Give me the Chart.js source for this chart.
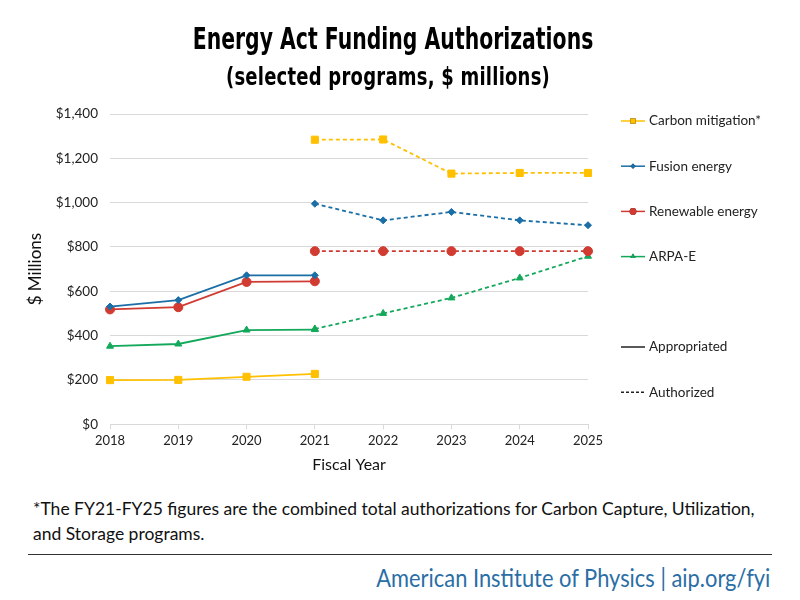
<!DOCTYPE html>
<html>
<head>
<meta charset="utf-8">
<script src="https://cdn.jsdelivr.net/npm/chart.js@4.4.1/dist/chart.umd.min.js"></script>
<style>
  body { margin: 0; background: #fff; }
  #wrap { position: relative; width: 800px; height: 600px; overflow: hidden; font-family: Lato, "Open Sans", sans-serif; }
  #chart { position: absolute; left: 0; top: 0; }
  .head { position: absolute; left: 0; width: 786px; text-align: center; color: #000; white-space: nowrap;
          font-family: "DejaVu Sans", sans-serif; font-weight: bold; transform-origin: 393px 0; }
  #title { top: 21px; font-size: 30px; transform: scaleX(0.68); }
  #subtitle { top: 63px; left: -5px; font-size: 24px; transform: scaleX(0.75); letter-spacing: 0.3px; }
  #note { position: absolute; left: 33px; top: 496px; width: 760px; font-size: 17.5px; line-height: 25px; color: #111; white-space: nowrap; }
  #rule { position: absolute; left: 28px; top: 554px; width: 744px; height: 1px; background: #333; }
  #footer { position: absolute; right: 30px; top: 562px; font-size: 25px; color: #2a6ea6; white-space: nowrap;
            transform: scaleX(0.875); transform-origin: right top; }
</style>
</head>
<body>
<div id="wrap">
  <canvas id="chart" width="800" height="480"></canvas>
  <div class="head" id="title">Energy Act Funding Authorizations</div>
  <div class="head" id="subtitle">(selected programs, $ millions)</div>
  <div id="note">*The FY21-FY25 figures are the combined total authorizations for Carbon Capture, Utilization,<br>and Storage programs.</div>
  <div id="rule"></div>
  <div id="footer">American Institute of Physics | aip.org/fyi</div>
</div>
<script>
const years = ["2018", "2019", "2020", "2021", "2022", "2023", "2024", "2025"];
const yTicks = [0, 200, 400, 600, 800, 1000, 1200, 1400];

const carbonAppropriated = [199, 200, 214, 227, null, null, null, null];
const carbonAuthorized = [null, null, null, 1284, 1285, 1131, 1134, 1134];
const fusionAppropriated = [531, 560, 672, 672, null, null, null, null];
const fusionAuthorized = [null, null, null, 995, 920, 958, 920, 898];
const renewableAppropriated = [518, 528, 642, 645, null, null, null, null];
const renewableAuthorized = [null, null, null, 781, 781, 781, 781, 781];
const arpaAppropriated = [352, 362, 425, 427, null, null, null, null];
const arpaAuthorized = [null, null, null, 430, 500, 570, 660, 758];

const programs = [
  { name: "Carbon mitigation*", color: "#ffc000", style: "rect", radius: 5, app: carbonAppropriated, auth: carbonAuthorized },
  { name: "Fusion energy", color: "#1b6ea6", style: "rectRot", radius: 3.5, app: fusionAppropriated, auth: fusionAuthorized },
  { name: "Renewable energy", color: "#d13b31", style: "circle", radius: 4.5, app: renewableAppropriated, auth: renewableAuthorized },
  { name: "ARPA-E", color: "#14a85b", style: "triangle", radius: 4, app: arpaAppropriated, auth: arpaAuthorized },
];

const datasets = [];
programs.forEach((p) => {
  [["app", []], ["auth", [4, 3]]].forEach(([key, dash]) => {
    datasets.push({
      label: p.name,
      data: p[key],
      borderColor: p.color,
      backgroundColor: p.color,
      borderWidth: 1.8,
      borderDash: dash,
      pointStyle: p.style,
      pointRadius: p.radius,
      pointBorderWidth: 1,
      spanGaps: false,
    });
  });
});

// legend on the right, with an empty slot between the programs and the line styles
const legendPlugin = {
  id: "sideLegend",
  afterDraw(chart) {
    const ctx = chart.ctx;
    const x0 = 621, x1 = 645, step = 45.2, top = 121;
    ctx.save();
    ctx.font = "13.5px Lato, 'Open Sans', sans-serif";
    ctx.textBaseline = "middle";
    const items = programs.map((p, i) => ({ ...p, y: top + i * step, dash: [] }));
    items.push({ name: "Appropriated", color: "#222", y: top + 5 * step, dash: [] });
    items.push({ name: "Authorized", color: "#222", y: top + 6 * step, dash: [3, 2] });
    items.forEach((it) => {
      ctx.strokeStyle = it.color;
      ctx.lineWidth = 1.5;
      ctx.setLineDash(it.dash);
      ctx.beginPath();
      ctx.moveTo(x0, it.y);
      ctx.lineTo(x1, it.y);
      ctx.stroke();
      ctx.setLineDash([]);
      if (it.style) {
        Chart.helpers.drawPoint(ctx, { pointStyle: it.style, radius: it.radius * 0.75, borderWidth: 0 }, (x0 + x1) / 2, it.y);
        ctx.fillStyle = it.color;
        ctx.fill();
      }
      ctx.fillStyle = "#222";
      ctx.fillText(it.name, x1 + 4, it.y);
    });
    ctx.restore();
  },
};

new Chart(document.getElementById("chart"), {
  type: "line",
  data: { labels: years, datasets },
  plugins: [legendPlugin],
  options: {
    responsive: false,
    animation: false,
    layout: { padding: { left: 0, right: 212, top: 114, bottom: 0 } },
    plugins: { legend: { display: false }, tooltip: { enabled: false } },
    scales: {
      x: {
        grid: { drawOnChartArea: false, drawTicks: true, tickLength: 5, color: "#d9d9d9" },
        border: { color: "#d9d9d9" },
        ticks: { color: "#222", font: { size: 13, family: "Lato" }, padding: 4, maxRotation: 0 },
        title: { display: true, text: "Fiscal Year", color: "#111", font: { size: 16, family: "Lato" }, padding: { top: 2, bottom: 6 } },
      },
      y: {
        min: 0,
        max: 1400,
        afterBuildTicks: (s) => { s.ticks = yTicks.map((v) => ({ value: v })); },
        afterFit: (s) => { s.width = 110; },
        grid: { color: "#d9d9d9", drawTicks: false },
        border: { display: false },
        ticks: { color: "#222", font: { size: 13.5, family: "Lato" }, padding: 12,
                 callback: (v) => "$" + v.toLocaleString("en-US") },
        title: { display: true, text: "$ Millions", color: "#111", font: { size: 17, family: "Lato" }, padding: { top: 25, bottom: 0 } },
      },
    },
  },
});
</script>
</body>
</html>
